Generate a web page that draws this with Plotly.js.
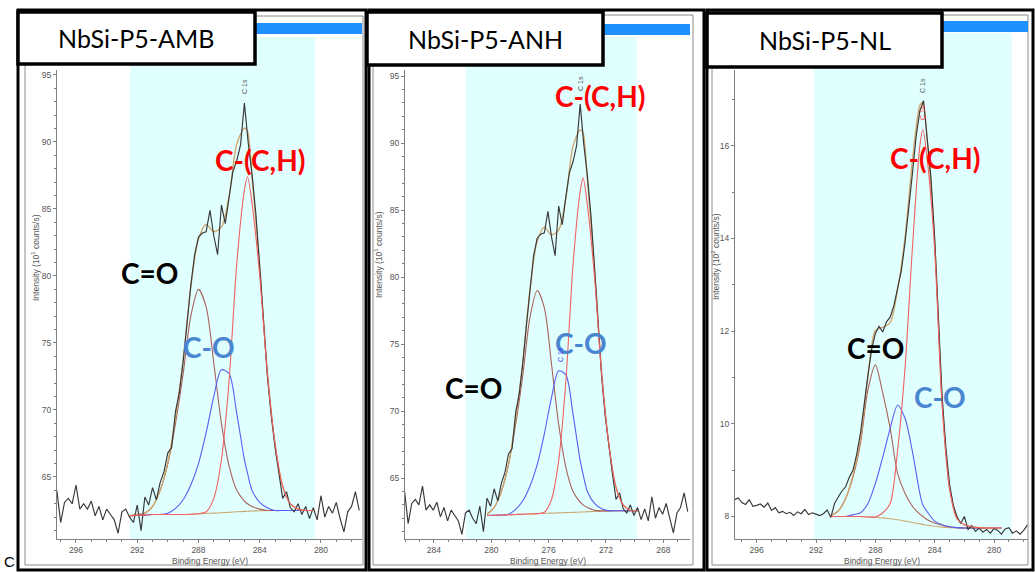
<!DOCTYPE html>
<html><head><meta charset="utf-8">
<script src="https://cdn.plot.ly/plotly-3.0.1.min.js"></script>
<style>html,body{margin:0;padding:0;background:#fff;}#chart{width:1035px;height:572px;}</style>
</head><body><div id="chart"></div>
<script>
// ---------- DATA ----------
const panelTitles = ['NbSi-P5-AMB', 'NbSi-P5-ANH', 'NbSi-P5-NL'];
const peakLabels = ['C-(C,H)', 'C=O', 'C-O'];

// Panel 1 : NbSi-P5-AMB  (raw spectrum)
const E1raw = [297.25,297,296.75,296.5,296.25,296,295.75,295.5,295.25,295,
  294.75,294.5,294.25,294,293.75,293.5,293.25,293,292.75,292.5,
  292.25,292,291.75,291.5,291.25,291,290.75,290.5,290.25,290,
  289.75,289.5,289.25,289,288.75,288.5,288.25,288,287.75,287.5,
  287.25,287,286.75,286.5,286.25,286,285.75,285.5,285.25,285,
  284.75,284.5,284.25,284,283.75,283.5,283.25,283,282.75,282.5,
  282.25,282,281.75,281.5,281.25,281,280.75,280.5,280.25,280,
  279.75,279.5,279.25,279,278.75,278.5,278.25,278,277.75,277.5];
const I1raw = [64.0,61.6,63.1,63.4,63.0,64.4,62.6,63.0,62.6,63.2,
  62.1,62.8,61.8,62.6,62.2,61.8,60.8,62.4,62.6,62.0,
  61.6,62.9,61.0,63.5,62.9,64.2,63.3,64.6,65.4,66.8,
  67.2,69.9,71.3,73.6,76.4,79.3,81.6,82.9,83.2,83.3,
  84.9,83.0,81.6,85.3,83.9,86.0,87.8,88.6,89.8,92.9,
  89.9,87.6,84.6,80.7,76.6,72.5,69.6,67.2,65.3,63.4,
  63.9,62.7,62.4,63.0,62.2,62.8,61.9,62.7,61.8,63.6,
  62.0,62.8,62.3,63.1,61.9,60.9,62.4,62.8,63.9,62.5];
// Panel 1 fit
const E1fit = [292.5,292,291.5,291,290.5,290,289.5,289,288.5,288,287.5,287,286.5,286,285.5,285,284.8,284.5,284,283.5,283,282.5,282,281.5,281,280.5];
const bg1  = [62.1,62.15,62.15,62.2,62.2,62.2,62.2,62.2,62.22,62.25,62.28,62.3,62.33,62.36,62.4,62.43,62.44,62.46,62.48,62.5,62.5,62.5,62.5,62.5,62.5,62.5];
const cdo1 = [62.1,62.2,62.3,62.8,64.0,66.0,69.0,72.7,77.0,79.0,77.7,73.5,69.0,65.8,64.0,63.2,63.0,62.8,62.6,62.5,62.5,62.5,62.5,62.5,62.5,62.5];
const cso1 = [62.1,62.15,62.15,62.2,62.2,62.3,62.66,63.3,64.4,66.0,68.3,71.0,73.0,72.7,69.75,66.3,65.3,64.0,63.1,62.7,62.5,62.5,62.5,62.5,62.5,62.5];
const cch1 = [62.1,62.15,62.15,62.2,62.2,62.2,62.2,62.2,62.22,62.25,62.4,63.4,66.3,72.2,80.9,86.4,87.4,85.4,80.0,72.7,67.5,64.3,63.0,62.6,62.5,62.5];
const env1 = [62.1,62.2,62.3,62.8,64.0,66.1,69.46,73.8,79.18,82.75,83.84,83.3,83.64,85.98,89.85,91.04,90.82,87.28,80.74,72.9,67.5,64.3,63.0,62.6,62.5,62.5];
const region1 = [292.47, 280.4];

// Panel 2 : NbSi-P5-ANH
const E2raw = [286.05,285.8,285.55,285.3,285.05,284.8,284.55,284.3,284.05,283.8,
  283.55,283.3,283.05,282.8,282.55,282.3,282.05,281.8,281.55,281.3,
  281.05,280.8,280.55,280.3,280.05,279.8,279.55,279.3,279.05,278.8,
  278.55,278.3,278.05,277.8,277.55,277.3,277.05,276.8,276.55,276.3,
  276.05,275.8,275.55,275.3,275.05,274.8,274.55,274.3,274.05,273.8,
  273.55,273.3,273.05,272.8,272.55,272.3,272.05,271.8,271.55,271.3,
  271.05,270.8,270.55,270.3,270.05,269.8,269.55,269.3,269.05,268.8,
  268.55,268.3,268.05,267.8,267.55,267.3,267.05,266.8,266.55,266.3];
const I2raw = [64.0,61.6,63.1,63.4,63.0,64.4,62.6,63.0,62.6,63.2,
  62.1,62.8,61.8,62.6,62.2,61.8,60.8,62.4,62.6,62.0,
  61.6,62.9,61.0,63.5,62.9,64.2,63.3,64.6,65.4,66.8,
  67.2,69.9,71.3,73.6,76.4,79.3,81.6,82.9,83.2,83.3,
  84.9,83.0,81.6,85.3,83.9,86.0,87.8,88.6,89.8,92.9,
  89.9,87.6,84.6,80.7,76.6,72.5,69.6,67.2,65.3,63.4,
  63.9,62.7,62.4,63.0,62.2,62.8,61.9,62.7,61.8,63.6,
  62.0,62.8,62.3,63.1,61.9,60.9,62.4,62.8,63.9,62.5];
const E2fit = [280.3,279.8,279.3,278.8,278.3,277.8,277.3,276.8,276.3,275.8,275.3,274.8,274.3,273.8,273.6,273.3,272.8,272.3,271.8,271.3,270.8,270.3,269.8];
const bg2  = [62.2,62.22,62.24,62.26,62.28,62.3,62.32,62.34,62.36,62.38,62.4,62.42,62.44,62.46,62.47,62.48,62.5,62.52,62.54,62.56,62.56,62.56,62.56];
const cdo2 = [62.3,62.8,64.0,66.0,69.0,72.7,77.0,79.0,77.7,73.5,69.0,65.8,64.0,63.2,63.0,62.8,62.6,62.55,62.55,62.56,62.56,62.56,62.56];
const cso2 = [62.2,62.22,62.24,62.3,62.66,63.3,64.4,66.0,68.3,71.0,73.0,72.7,69.75,66.3,65.3,64.0,63.1,62.7,62.56,62.56,62.56,62.56,62.56];
const cch2 = [62.2,62.22,62.24,62.26,62.28,62.3,62.32,62.34,62.45,63.4,66.3,72.2,80.9,86.4,87.4,85.4,80.0,72.7,67.5,64.3,63.0,62.6,62.56];
const env2 = [62.3,62.8,64.0,66.04,69.38,73.7,79.08,82.66,83.73,83.14,83.5,85.86,89.77,90.98,90.76,87.24,80.7,72.91,67.53,64.3,63.0,62.6,62.56];
const region2 = [281.77, 269.86];

// Panel 3 : NbSi-P5-NL
const E3raw = [297.5,297.25,297,296.75,296.5,296.25,296,295.75,295.5,295.25,
  295,294.75,294.5,294.25,294,293.75,293.5,293.25,293,292.75,
  292.5,292.25,292,291.75,291.5,291.25,291,290.75,290.5,290.25,
  290,289.75,289.5,289.25,289,288.75,288.5,288.25,288,287.75,
  287.5,287.25,287,286.75,286.5,286.25,286,285.75,285.5,285.25,
  285,284.75,284.5,284.25,284,283.75,283.5,283.25,283,282.75,
  282.5,282.25,282,281.75,281.5,281.25,281,280.75,280.5,280.25,
  280,279.75,279.5,279.25,279,278.75,278.5,278.25,278,277.75];
const I3raw = [8.36,8.4,8.3,8.26,8.36,8.22,8.24,8.27,8.2,8.29,
  8.13,8.19,8.08,8.11,8.06,8.09,8.02,8.1,8.06,8.15,
  8.04,8.08,8.05,8.02,8.06,8.14,7.98,8.28,8.42,8.55,
  8.64,8.85,9.0,9.35,9.8,10.45,11.05,11.6,11.95,12.1,
  11.98,12.2,12.3,12.55,12.9,13.3,13.9,14.6,15.4,16.2,
  16.75,16.97,16.2,15.3,14.0,12.2,10.6,9.5,8.7,8.25,
  8.0,7.85,8.0,7.72,7.8,7.68,7.75,7.66,7.72,7.64,
  7.74,7.7,7.62,7.73,7.76,7.64,7.69,7.62,7.7,7.82];
const E3fit = [291,290.5,290,289.5,289,288.5,288,287.5,287,286.5,286,285.5,285,284.8,284.5,284,283.5,283,282.5,282,281.5,281,280.5,280,279.5];
const bg3  = [8.0,8.0,8.0,8.0,8.0,7.99,7.98,7.97,7.95,7.93,7.9,7.87,7.84,7.83,7.81,7.79,7.77,7.76,7.75,7.75,7.75,7.75,7.75,7.75,7.75];
const cdo3 = [8.02,8.12,8.39,8.86,9.58,10.73,11.27,10.66,9.9,8.93,8.5,8.22,8.05,8.0,7.93,7.86,7.81,7.78,7.76,7.75,7.75,7.75,7.75,7.75,7.75];
const cso3 = [8.0,8.0,8.0,8.04,8.08,8.28,8.71,9.28,9.9,10.4,10.12,9.4,8.5,8.25,8.1,7.9,7.82,7.78,7.76,7.75,7.75,7.75,7.75,7.75,7.75];
const cch3 = [8.0,8.0,8.0,8.0,8.0,7.99,7.99,8.08,8.28,9.43,11.2,13.8,16.0,16.35,15.7,13.75,10.4,8.6,7.95,7.82,7.78,7.76,7.75,7.75,7.75];
const env3 = [8.02,8.12,8.39,8.9,9.66,11.02,12.01,12.08,12.18,12.9,14.02,15.68,16.87,16.94,16.11,13.93,10.49,8.64,7.97,7.82,7.78,7.76,7.75,7.75,7.75];
const region3 = [292.12, 278.81];

// ---------- LAYOUT HELPERS (pixel -> paper) ----------
const W = 1035, H = 572;
const fx = p => p / W, fy = p => 1 - p / H;

const COL = {raw:'#383838', env:'#cfa56a', bg:'#c9aa72', cdo:'#a9625a', cso:'#5c5cf2', cch:'#f26262',
  cyan:'#e0ffff', bar:'#1e90ff', axis:'#808080', blueLbl:'#4a86cf'};

function panelTraces(xa, ya, Eraw, Iraw, Efit, bg, cdo, cso, cch, env) {
  const base = {type:'scatter', mode:'lines', xaxis:xa, yaxis:ya, hoverinfo:'skip', showlegend:false};
  const sm = {shape:'spline', smoothing:0.8, width:1.1};
  return [
    Object.assign({}, base, {x:Efit, y:bg,  line:Object.assign({}, sm, {color:COL.bg})}),
    Object.assign({}, base, {x:Efit, y:cdo, line:Object.assign({}, sm, {color:COL.cdo})}),
    Object.assign({}, base, {x:Efit, y:cso, line:Object.assign({}, sm, {color:COL.cso})}),
    Object.assign({}, base, {x:Efit, y:env, line:Object.assign({}, sm, {color:COL.env, width:1.3})}),
    Object.assign({}, base, {x:Eraw, y:Iraw, line:{color:COL.raw, width:1.15}}),
    Object.assign({}, base, {x:Efit, y:cch, line:Object.assign({}, sm, {color:COL.cch})})
  ];
}

const data = [].concat(
  panelTraces('x','y',  E1raw, I1raw, E1fit, bg1, cdo1, cso1, cch1, env1),
  panelTraces('x2','y2',E2raw, I2raw, E2fit, bg2, cdo2, cso2, cch2, env2),
  panelTraces('x3','y3',E3raw, I3raw, E3fit, bg3, cdo3, cso3, cch3, env3)
);

const tickFont = {family:'Liberation Sans, Arial, sans-serif', size:8.5, color:'#555'};
function xAx(d0, d1, range, anchor) {
  return {domain:[fx(d0), fx(d1)], range:range, anchor:anchor, tick0:280, dtick:4,
    showline:true, linecolor:COL.axis, linewidth:1, ticks:'outside', ticklen:3, tickcolor:COL.axis,
    tickfont:tickFont, showgrid:false, zeroline:false, fixedrange:true,
    minor:{dtick:1, ticks:'outside', ticklen:2, tickcolor:COL.axis, showgrid:false}};
}
function yAx(range, anchor, dtick) {
  return {domain:[fy(539), fy(70)], range:range, anchor:anchor, dtick:dtick, tick0:0,
    showline:true, linecolor:COL.axis, linewidth:1, ticks:'outside', ticklen:3, tickcolor:COL.axis,
    tickfont:tickFont, showgrid:false, zeroline:false, fixedrange:true,
    minor:{dtick:1, ticks:'outside', ticklen:2, tickcolor:COL.axis, showgrid:false}};
}

function rectPx(x0, y0, x1, y1, style) {
  return Object.assign({type:'rect', xref:'paper', yref:'paper', x0:fx(x0), x1:fx(x1), y0:fy(y1), y1:fy(y0)}, style);
}
const shapes = [
  // fitting regions (light cyan)
  {type:'rect', xref:'x',  yref:'paper', x0:region1[0], x1:region1[1], y0:fy(539), y1:fy(37), fillcolor:COL.cyan, line:{width:0}, layer:'below'},
  {type:'rect', xref:'x2', yref:'paper', x0:region2[0], x1:region2[1], y0:fy(539), y1:fy(37), fillcolor:COL.cyan, line:{width:0}, layer:'below'},
  {type:'rect', xref:'x3', yref:'paper', x0:region3[0], x1:region3[1], y0:fy(539), y1:fy(33), fillcolor:COL.cyan, line:{width:0}, layer:'below'},
  // inner thin frames
  rectPx(25, 16, 363, 565, {line:{color:'#8c8c8c', width:1}}),
  rectPx(373, 15, 693, 565, {line:{color:'#8c8c8c', width:1}}),
  rectPx(712, 15, 1028, 565, {line:{color:'#8c8c8c', width:1}}),
  // outer thick frames
  rectPx(18, 10, 366, 570, {line:{color:'#000', width:3}}),
  rectPx(369, 10, 704, 570, {line:{color:'#000', width:3}}),
  rectPx(707, 10, 1033, 570, {line:{color:'#000', width:3}}),
  // blue title bars
  rectPx(255, 23, 362, 34, {fillcolor:COL.bar, line:{width:0}}),
  rectPx(603, 24, 690, 35, {fillcolor:COL.bar, line:{width:0}}),
  rectPx(942, 21, 1028, 32, {fillcolor:COL.bar, line:{width:0}}),
  // title boxes
  rectPx(18, 12, 255, 64, {fillcolor:'#fff', line:{color:'#000', width:3.5}}),
  rectPx(367, 12, 603, 65, {fillcolor:'#fff', line:{color:'#000', width:3.5}}),
  rectPx(707, 13, 942, 67, {fillcolor:'#fff', line:{color:'#000', width:3.5}})
];

function ann(text, px, py, font, extra) {
  return Object.assign({text:text, xref:'paper', yref:'paper', x:fx(px), y:fy(py),
    xanchor:'center', yanchor:'middle', showarrow:false, font:font}, extra || {});
}
const titleFont = {family:'Lato, Liberation Sans, sans-serif', size:25, color:'#000'};
const redF = {family:'Lato, Liberation Sans, sans-serif', size:28, color:'#ff0000'};
const blkF = {family:'Lato, Liberation Sans, sans-serif', size:28, color:'#000'};
const bluF = {family:'Lato, Liberation Sans, sans-serif', size:28, color:COL.blueLbl};
const smallF = {family:'Liberation Sans, Arial, sans-serif', size:8.5, color:'#555'};
const tinyF = {family:'Liberation Sans, Arial, sans-serif', size:7, color:'#555'};

const annotations = [
  ann(panelTitles[0], 136, 38.5, titleFont),
  ann(panelTitles[1], 485, 39, titleFont),
  ann(panelTitles[2], 825, 40, titleFont),
  ann('<b>' + peakLabels[0] + '</b>', 260, 160, redF),
  ann('<b>' + peakLabels[0] + '</b>', 600, 96, redF),
  ann('<b>' + peakLabels[0] + '</b>', 935, 158, redF),
  ann('<b>' + peakLabels[1] + '</b>', 149, 273, blkF),
  ann('<b>' + peakLabels[1] + '</b>', 473, 388, blkF),
  ann('<b>' + peakLabels[1] + '</b>', 875, 348, blkF),
  ann('<b>' + peakLabels[2] + '</b>', 209, 347, bluF),
  ann('<b>' + peakLabels[2] + '</b>', 581, 343, bluF),
  ann('<b>' + peakLabels[2] + '</b>', 940, 397, bluF),
  ann('C 1s', 245, 87, tinyF, {textangle:-90}),
  ann('C 1s', 580, 84, tinyF, {textangle:-90}),
  ann('C 1s', 923, 86, tinyF, {textangle:-90}),
  ann('C 1s', 923, 113, Object.assign({}, tinyF, {color:'#ff3030'}), {textangle:-90}),
  ann('C 1s', 560, 355, Object.assign({}, tinyF, {color:'#4040ff'}), {textangle:-90}),
  ann('Intensity (10<sup>1</sup> counts/s)', 35, 258, smallF, {textangle:-90}),
  ann('Intensity (10<sup>1</sup> counts/s)', 378, 255, smallF, {textangle:-90}),
  ann('Intensity (10<sup>2</sup> counts/s)', 715, 257, smallF, {textangle:-90}),
  ann('Binding Energy (eV)', 210, 561, smallF),
  ann('Binding Energy (eV)', 548, 561, smallF),
  ann('Binding Energy (eV)', 882, 561, smallF),
  ann('C', 3, 571, {family:'Liberation Sans, Arial, sans-serif', size:15, color:'#000'}, {xanchor:'left', yanchor:'bottom', borderpad:0})
];

const layout = {
  width:W, height:H, autosize:false,
  margin:{l:0, r:0, t:0, b:0, pad:0},
  paper_bgcolor:'#fff', plot_bgcolor:'rgba(0,0,0,0)',
  showlegend:false,
  xaxis:  xAx(57, 362, [297.24, 277.32], 'y'),
  yaxis:  yAx([60.37, 95.37], 'x', 5),
  xaxis2: xAx(405, 690, [286.02, 266.14], 'y2'),
  yaxis2: yAx([60.45, 95.45], 'x2', 5),
  xaxis3: xAx(735, 1028, [297.46, 277.71], 'y3'),
  yaxis3: yAx([7.514, 17.633], 'x3', 2),
  shapes:shapes,
  annotations:annotations
};

Plotly.newPlot('chart', data, layout, {staticPlot:true, displayModeBar:false});
</script></body></html>
